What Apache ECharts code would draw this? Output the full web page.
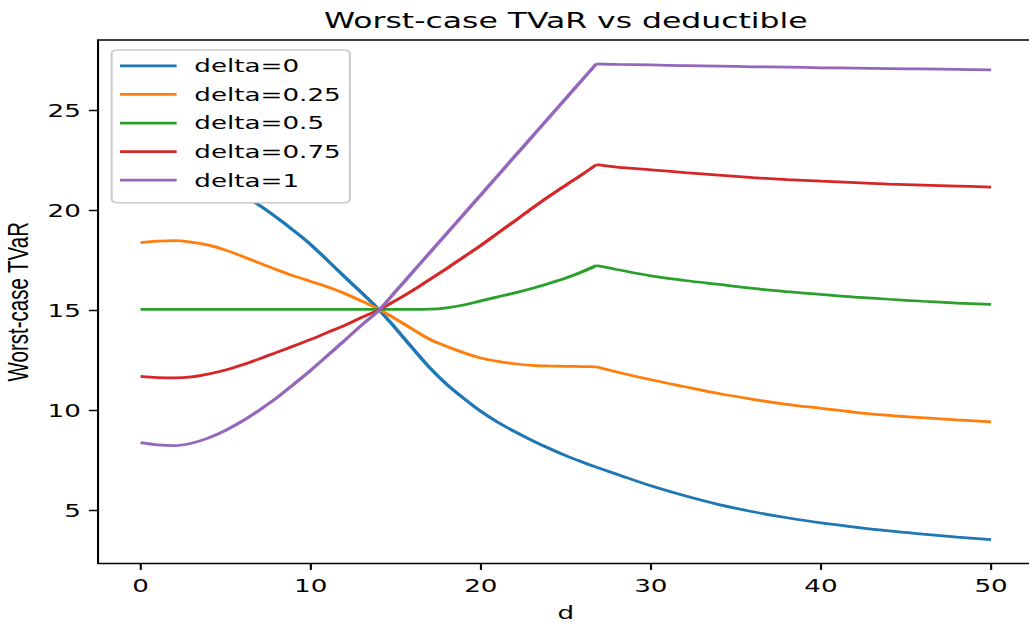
<!DOCTYPE html>
<html>
<head>
<meta charset="utf-8">
<script src="https://cdn.jsdelivr.net/npm/echarts@6/dist/echarts.min.js"></script>
<style>
html,body{margin:0;padding:0;overflow:hidden;background:#fff;width:1029px;height:628px;}
#chart{width:730px;height:628px;transform:scaleX(1.4292);transform-origin:0 0;}
</style>
</head>
<body>
<div id="chart"></div>
<script>
const titleText = 'Worst-case TVaR vs deductible';
const xName = 'd';
const yName = 'Worst-case TVaR';
const seriesNames = ['delta=0', 'delta=0.25', 'delta=0.5', 'delta=0.75', 'delta=1'];
const xTicks = [0, 10, 20, 30, 40, 50];
const yTicks = [5, 10, 15, 20, 25];
const kinkX = 26.8;

const d = [0,1,2,3,4,5,6,7,8,9,10,11,12,13,14,15,16,17,18,19,20,21,22,23,24,25,26,26.8,28,30,32,34,36,38,40,42,44,46,48,50];

const delta0 = [21.8,21.95,22.0,21.85,21.55,21.15,20.75,20.25,19.65,19.0,18.3,17.5,16.68,15.88,15.05,14.1,13.1,12.13,11.3,10.6,9.95,9.4,8.93,8.5,8.1,7.73,7.4,7.15,6.8,6.22,5.72,5.28,4.92,4.62,4.36,4.15,3.96,3.8,3.65,3.52];
const delta025 = [18.4,18.47,18.5,18.42,18.27,18.02,17.7,17.37,17.04,16.73,16.45,16.17,15.85,15.47,15.07,14.57,14.06,13.55,13.2,12.88,12.62,12.45,12.33,12.25,12.22,12.2,12.19,12.18,11.92,11.53,11.18,10.84,10.55,10.3,10.1,9.9,9.75,9.63,9.52,9.42];
const delta05 = [15.05,15.05,15.05,15.05,15.05,15.05,15.05,15.05,15.05,15.05,15.05,15.05,15.05,15.05,15.05,15.05,15.05,15.06,15.13,15.27,15.48,15.68,15.88,16.1,16.35,16.62,16.95,17.25,17.05,16.73,16.5,16.3,16.1,15.94,15.8,15.67,15.56,15.46,15.37,15.3];
const delta075 = [11.7,11.64,11.62,11.67,11.82,12.02,12.28,12.58,12.9,13.22,13.55,13.9,14.25,14.65,15.03,15.5,16.0,16.55,17.1,17.68,18.25,18.87,19.48,20.1,20.7,21.27,21.83,22.3,22.18,22.04,21.9,21.77,21.65,21.55,21.47,21.4,21.33,21.28,21.23,21.18];
const delta1 = [8.38,8.27,8.23,8.35,8.62,9.0,9.47,10.02,10.62,11.3,12.0,12.75,13.5,14.27,15.0,15.96,16.92,17.89,18.85,19.82,20.78,21.75,22.72,23.68,24.65,25.61,26.58,27.35,27.32,27.29,27.26,27.23,27.2,27.18,27.15,27.13,27.11,27.09,27.07,27.05];

const allValues = [delta0, delta025, delta05, delta075, delta1];
const colors = ['#1f77b4', '#ff7f0e', '#2ca02c', '#d62728', '#9467bd'];

// each curve is drawn as two smooth pieces that meet at the corner d = kinkX
function piece(vals, before) {
  const out = [];
  d.forEach((x, i) => {
    if (before ? x <= kinkX : x >= kinkX) out.push([x, vals[i]]);
  });
  return out;
}

const series = [];
seriesNames.forEach((n, k) => {
  [true, false].forEach(before => {
    series.push({
      name: n,
      type: 'line',
      symbol: 'none',
      smooth: 0.35,
      lineStyle: {width: 2.75, color: colors[k]},
      itemStyle: {color: colors[k]},
      data: piece(allValues[k], before)
    });
  });
});

const chart = echarts.init(document.getElementById('chart'), null, {renderer: 'svg'});
const font = 'DejaVu Sans';
chart.setOption({
  animation: false,
  color: colors,
  title: {
    text: titleText,
    left: 395.9,
    top: 9,
    padding: 0,
    textAlign: 'center',
    textStyle: {fontFamily: font, fontSize: 22, fontWeight: 'normal', color: '#000'}
  },
  legend: {
    orient: 'vertical',
    left: 78.1,
    top: 50,
    padding: [6.8, 6.5, 13.5, 5.8],
    icon: 'rect',
    itemWidth: 39.7,
    itemHeight: 2.75,
    itemGap: 10.6,
    backgroundColor: '#ffffff',
    borderColor: '#cccccc',
    borderWidth: 1.47,
    borderRadius: 3.7,
    textStyle: {fontFamily: font, fontSize: 18.3, color: '#000', padding: [0, 0, 0, 7.4]},
    data: seriesNames
  },
  grid: {
    left: 68.6, right: 6.8, top: 40, bottom: 64.5,
    outerBoundsMode: 'none',
    show: true, borderColor: '#000', borderWidth: 1.47, backgroundColor: 'transparent',
    containLabel: false
  },
  xAxis: {
    type: 'value', min: -2.5, max: 52.5,
    name: xName, nameLocation: 'middle', nameGap: 40.5,
    nameTextStyle: {fontFamily: font, fontSize: 18.3, color: '#000'},
    axisLine: {show: false, onZero: false},
    axisTick: {show: true, length: 6.4, lineStyle: {color: '#000', width: 1.47}, customValues: xTicks},
    axisLabel: {fontFamily: font, fontSize: 18.3, color: '#000', margin: 13, customValues: xTicks},
    splitLine: {show: false}
  },
  yAxis: {
    type: 'value', min: 2.33, max: 28.54,
    name: yName, nameLocation: 'middle', nameGap: 43.3,
    nameTextStyle: {fontFamily: 'Liberation Sans', fontSize: 20.5, color: '#000'},
    axisLine: {show: false, onZero: false},
    axisTick: {show: true, length: 6.4, lineStyle: {color: '#000', width: 1.47}, customValues: yTicks},
    axisLabel: {fontFamily: font, fontSize: 18.3, color: '#000', margin: 12, customValues: yTicks},
    splitLine: {show: false}
  },
  series: series
});
</script>
</body>
</html>
